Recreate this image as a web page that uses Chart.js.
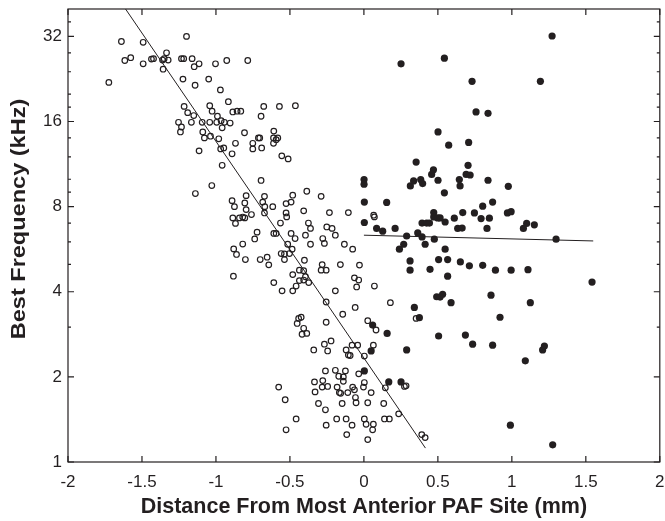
<!DOCTYPE html>
<html lang="en">
<head>
<meta charset="UTF-8">
<title>Best frequency vs distance from most anterior PAF site</title>
<script src="https://cdn.jsdelivr.net/npm/chart.js"></script>
<style>
  body { margin: 0; background: #fff; }
  #wrap { width: 665px; height: 521px; }
</style>
</head>
<body>
<div id="wrap"><canvas id="bfChart" width="665" height="521"></canvas></div>
<script>
  // open circles: sites behind the most anterior PAF site (x in mm, y in kHz)
  const openX = [-1.639, -1.492, -1.199, -1.724, -1.616, -1.576, -1.492, -1.436, -1.422, -1.361,
    -1.350, -1.334, -1.323, -1.357, -1.233, -1.218, -1.161, -1.147, -1.114, -1.223,
    -1.141, -1.215, -1.191, -1.150, -1.253, -1.233, -1.240, -1.166, -1.114, -1.003,
    -0.927, -0.785, -1.049, -0.970, -0.916, -1.042, -1.026, -0.990, -0.886, -0.857,
    -0.832, -0.677, -0.571, -0.463, -0.695, -1.093, -1.042, -0.995, -0.965, -0.943,
    -0.958, -0.904, -1.089, -1.078, -1.037, -0.981, -0.968, -0.947, -0.807, -0.868,
    -0.891, -0.958, -0.751, -0.751, -0.713, -0.704, -0.691, -0.609, -0.611, -0.593,
    -0.582, -0.611, -0.555, -0.512, -1.028, -1.139, -0.695, -0.891, -0.875, -0.796,
    -0.805, -0.796, -0.672, -0.684, -0.670, -0.672, -0.886, -0.868, -0.841, -0.819,
    -0.805, -0.760, -0.722, -0.738, -0.819, -0.880, -0.861, -0.801, -0.701, -0.654,
    -0.643, -0.882, -0.386, -0.481, -0.492, -0.526, -0.289, -0.616, -0.526, -0.522,
    -0.564, -0.407, -0.233, -0.105, -0.375, -0.361, -0.251, -0.215, -0.193, -0.609,
    -0.593, -0.492, -0.465, -0.395, -0.361, -0.278, -0.267, -0.515, -0.485, -0.132,
    -0.559, -0.537, -0.537, -0.503, -0.402, -0.282, -0.289, -0.255, -0.159, -0.436,
    -0.407, -0.481, -0.395, -0.407, -0.436, -0.373, -0.458, -0.481, -0.553, -0.609,
    -0.193, -0.255, -0.143, -0.424, -0.441, -0.451, -0.407, -0.386, -0.418, -0.255,
    -0.222, -0.267, -0.245, -0.339, -0.120, -0.105, -0.093, -0.260, -0.193, -0.170,
    -0.139, -0.125, -0.334, -0.278, -0.282, -0.245, -0.139, -0.330, -0.307, -0.260,
    -0.181, -0.166, -0.157, -0.147, -0.109, -0.576, -0.532, -0.458, -0.526, -0.255,
    -0.184, -0.120, -0.116, 0.066, 0.071, -0.076, -0.030, -0.064, -0.035, -0.049,
    0.071, -0.059, 0.179, 0.353, 0.026, 0.082, -0.080, -0.042, 0.064, 0.003,
    -0.035, 0.274, 0.285, 0.003, -0.003, -0.076, -0.064, 0.049, 0.145, -0.057,
    -0.053, 0.026, 0.134, 0.235, -0.080, 0.003, 0.015, 0.064, 0.059, 0.139,
    0.172, 0.026, 0.391, 0.414];
  const openY = [30.7, 30.5, 32.0, 22.0, 26.3, 26.9, 25.6, 26.6, 26.7, 26.4,
    26.7, 28.0, 26.4, 24.5, 26.7, 26.7, 26.7, 25.0, 25.6, 22.6,
    21.5, 18.1, 17.2, 16.8, 15.9, 15.3, 14.7, 15.9, 12.6, 25.6,
    26.3, 26.3, 22.6, 20.7, 18.8, 18.2, 17.4, 16.7, 17.3, 17.4,
    17.4, 18.1, 18.1, 18.2, 16.7, 15.9, 15.9, 15.9, 16.1, 15.9,
    15.2, 15.8, 14.7, 14.0, 14.2, 13.9, 12.8, 12.9, 14.6, 13.4,
    12.3, 11.2, 13.4, 12.8, 14.0, 14.0, 12.9, 14.8, 14.0, 13.8,
    14.0, 13.4, 12.1, 11.8, 9.5, 8.9, 9.9, 8.4, 8.0, 8.75,
    8.24, 7.81, 8.7, 8.3, 8.0, 7.6, 7.3, 6.98, 7.3, 7.35,
    7.3, 7.5, 6.5, 6.15, 5.9, 5.67, 5.42, 5.2, 5.2, 5.3,
    4.98, 4.54, 9.07, 8.78, 8.3, 8.2, 8.7, 8.0, 7.6, 7.36,
    7.0, 7.73, 7.62, 7.62, 7.0, 6.7, 6.78, 6.7, 6.34, 6.43,
    6.43, 6.43, 6.17, 6.34, 5.89, 6.17, 5.93, 5.89, 5.66, 5.89,
    5.46, 5.44, 5.2, 5.46, 5.17, 4.99, 4.77, 4.77, 4.99, 4.77,
    4.75, 4.6, 4.52, 4.4, 4.38, 4.31, 4.19, 4.03, 4.03, 4.31,
    4.03, 3.68, 3.33, 3.25, 3.22, 3.09, 2.97, 2.85, 2.83, 3.12,
    2.68, 2.61, 2.47, 2.49, 2.49, 2.39, 2.38, 2.10, 2.11, 2.01,
    2.0, 2.10, 1.92, 1.94, 1.84, 1.85, 1.93, 1.77, 1.61, 1.53,
    1.84, 1.76, 1.75, 1.61, 1.76, 1.84, 1.66, 1.42, 1.30, 1.35,
    1.42, 1.42, 1.25, 7.46, 7.36, 5.66, 4.97, 4.48, 4.4, 4.16,
    4.19, 3.52, 3.66, 3.22, 3.16, 2.93, 2.59, 2.59, 2.59, 2.37,
    2.05, 1.85, 1.86, 1.91, 1.84, 1.84, 1.80, 1.76, 1.83, 1.69,
    1.62, 1.62, 1.61, 1.48, 1.35, 1.42, 1.36, 1.36, 1.30, 1.42,
    1.42, 1.20, 1.25, 1.22];

  // filled circles: sites at or past the most anterior PAF site
  const filledX = [0.251, 0.544, 0.731, 0.758, 0.839, 0.501, 0.573, 0.708, 0.353, 0.704,
    0.470, 0.458, 0.001, 0.001, 0.314, 0.336, 0.384, 0.397, 0.501, 0.645,
    0.650, 0.691, 0.718, 0.839, 1.272, 1.193, 0.544, 0.003, 0.154, 0.803,
    0.003, 0.086, 0.127, 0.211, 0.289, 0.364, 0.393, 0.424, 0.443, 0.472,
    0.472, 0.499, 0.515, 0.549, 0.611, 0.668, 0.747, 0.792, 0.848, 0.634,
    0.664, 0.832, 0.393, 0.414, 0.476, 0.240, 0.269, 0.549, 0.312, 0.312,
    0.447, 0.505, 0.566, 0.652, 0.713, 0.803, 0.566, 0.492, 0.532, 0.515,
    0.341, 0.589, 0.375, 0.059, 0.157, 0.505, 0.686, 0.735, 0.049, 0.289,
    0.003, 0.168, 0.251, 0.976, 0.870, 0.970, 0.995, 1.100, 1.078, 1.152,
    1.299, 0.889, 0.995, 1.109, 1.542, 0.859, 1.125, 0.920, 0.870, 1.208,
    1.220, 1.091, 0.990, 1.276];
  const filledY = [25.6, 26.8, 22.2, 17.3, 17.1, 14.7, 13.2, 13.5, 11.5, 11.2,
    10.8, 10.4, 9.97, 9.6, 9.47, 9.86, 9.97, 9.65, 9.92, 9.97,
    9.47, 10.4, 10.35, 9.92, 32.1, 22.2, 8.95, 8.3, 8.28, 8.03,
    7.03, 6.7, 6.55, 6.7, 6.3, 6.46, 7.0, 7.0, 7.0, 7.62,
    7.36, 7.3, 7.3, 7.06, 7.28, 7.62, 7.6, 7.26, 7.28, 6.7,
    6.72, 6.7, 6.25, 5.89, 6.14, 5.66, 5.89, 5.66, 5.14, 4.77,
    4.8, 5.2, 5.2, 5.1, 4.94, 4.96, 4.54, 3.84, 3.92, 3.83,
    3.52, 3.66, 3.24, 3.05, 2.85, 2.79, 2.81, 2.61, 2.47, 2.49,
    2.10, 1.92, 1.92, 9.44, 8.3, 7.6, 7.68, 6.98, 6.7, 6.9,
    6.14, 4.77, 4.77, 4.79, 4.33, 3.89, 3.66, 3.25, 2.59, 2.49,
    2.57, 2.28, 1.35, 1.15];

  // fitted lines (end points)
  const openFitX = [-1.611, 0.416];
  const openFitY = [40, 1.12];
  const filledFitX = [0, 1.55];
  const filledFitY = [6.34, 6.05];

  const xTicks = [-2, -1.5, -1, -0.5, 0, 0.5, 1, 1.5, 2];
  const yTicks = [1, 2, 4, 8, 16, 32];
  const yMinorTicks = [3, 5, 6, 7, 9, 10, 12, 14, 18, 20, 24, 28, 36];

  const xTitle = 'Distance From Most Anterior PAF Site (mm)';
  const yTitle = 'Best Frequency (kHz)';

  const ink = '#231f20';
  const family = "'Liberation Sans', Arial, Helvetica, sans-serif";

  const toPoints = (xs, ys) => xs.map((v, i) => ({ x: v, y: ys[i] }));

  // keep the plot box where the figure has it: no extra room for end labels
  const noPad = s => { s.paddingLeft = 0; s.paddingRight = 0; s.paddingTop = 0; s.paddingBottom = 0; };

  // box round the plot, inward ticks on all four sides, and the axis titles
  const framePlugin = {
    id: 'frame',
    afterDatasetsDraw(chart) {
      const { ctx, chartArea: a, scales: { x, y } } = chart;
      ctx.save();
      ctx.strokeStyle = ink;
      ctx.lineWidth = 1.2;
      ctx.strokeRect(a.left, a.top, a.right - a.left, a.bottom - a.top);
      ctx.beginPath();
      xTicks.forEach(v => {
        const px = x.getPixelForValue(v);
        ctx.moveTo(px, a.bottom); ctx.lineTo(px, a.bottom - 6);
        ctx.moveTo(px, a.top); ctx.lineTo(px, a.top + 6);
      });
      yTicks.forEach(v => {
        const py = y.getPixelForValue(v);
        ctx.moveTo(a.left, py); ctx.lineTo(a.left + 6, py);
        ctx.moveTo(a.right, py); ctx.lineTo(a.right - 6, py);
      });
      yMinorTicks.forEach(v => {
        const py = y.getPixelForValue(v);
        ctx.moveTo(a.left, py); ctx.lineTo(a.left + 3, py);
        ctx.moveTo(a.right, py); ctx.lineTo(a.right - 3, py);
      });
      ctx.stroke();

      ctx.fillStyle = ink;
      ctx.textAlign = 'center';
      ctx.textBaseline = 'middle';
      ctx.font = 'bold 21.5px ' + family;
      ctx.fillText(xTitle, (a.left + a.right) / 2, 507);
      // the y title runs longer in the figure than its letter height suggests
      ctx.font = 'bold 21px ' + family;
      ctx.translate(19, 219);
      ctx.rotate(-Math.PI / 2);
      ctx.scale(1.12, 1);
      ctx.fillText(yTitle, 0, 0);
      ctx.restore();
    }
  };

  new Chart(document.getElementById('bfChart'), {
    type: 'scatter',
    data: {
      datasets: [
        {
          data: toPoints(openX, openY),
          pointRadius: 2.8,
          borderWidth: 1.2,
          borderColor: ink,
          backgroundColor: 'rgba(0,0,0,0)'
        },
        {
          data: toPoints(filledX, filledY),
          pointRadius: 3.6,
          borderWidth: 0,
          backgroundColor: ink
        },
        {
          data: toPoints(openFitX, openFitY),
          showLine: true,
          pointRadius: 0,
          borderWidth: 1,
          borderColor: ink
        },
        {
          data: toPoints(filledFitX, filledFitY),
          showLine: true,
          pointRadius: 0,
          borderWidth: 1,
          borderColor: ink
        }
      ]
    },
    options: {
      responsive: false,
      animation: false,
      events: [],
      layout: { padding: { top: 9, right: 4, left: 0, bottom: 0 } },
      plugins: { legend: { display: false }, tooltip: { enabled: false } },
      scales: {
        x: {
          type: 'linear',
          min: -2,
          max: 2,
          grid: { display: false, drawTicks: false },
          border: { display: false },
          afterBuildTicks: s => { s.ticks = xTicks.map(v => ({ value: v })); },
          afterFit: s => { s.height = 59; noPad(s); },
          ticks: {
            color: ink,
            font: { family: family, size: 17 },
            padding: 10,
            maxRotation: 0,
            autoSkip: false,
            callback: v => String(v)
          }
        },
        y: {
          type: 'logarithmic',
          min: 1,
          max: 40,
          grid: { display: false, drawTicks: false },
          border: { display: false },
          afterBuildTicks: s => { s.ticks = yTicks.map(v => ({ value: v })); },
          afterFit: s => { s.width = 68; noPad(s); },
          ticks: {
            color: ink,
            font: { family: family, size: 17 },
            padding: 6,
            autoSkip: false,
            callback: v => String(v)
          }
        }
      }
    },
    plugins: [framePlugin]
  });
</script>
</body>
</html>
